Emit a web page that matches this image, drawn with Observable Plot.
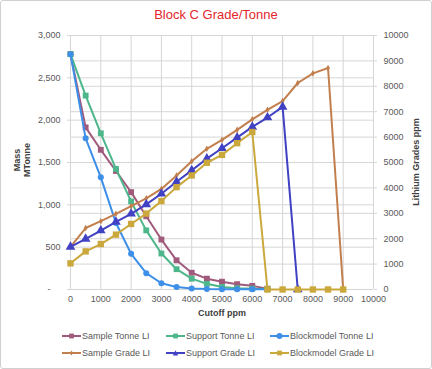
<!DOCTYPE html>
<html><head><meta charset="utf-8">
<script src="https://cdn.jsdelivr.net/npm/d3@7"></script>
<script src="https://cdn.jsdelivr.net/npm/@observablehq/plot@0.6"></script>
<style>
body{margin:0;background:#fff;font-family:"Liberation Sans",Arial,sans-serif;}
#page{position:relative;width:432px;height:369px;overflow:hidden;background:#fff}
#frame{position:absolute;left:0;top:0;width:432px;height:369px;box-sizing:border-box;border:1px solid #d0d0d0;border-radius:3px;pointer-events:none}
#title{position:absolute;left:0;top:7px;width:432px;text-align:center;font-size:13px;color:#e3262b;line-height:16px}
#chart{position:absolute;left:0;top:0}
#legend{position:absolute;left:62px;top:330px;display:grid;grid-template-columns:104px 104px 110px;row-gap:5px;font-size:9px;color:#595959}
#legend .it{display:flex;align-items:center;height:12px;white-space:nowrap}
#legend svg{margin-right:1px}
.ylab{position:absolute;font-size:9px;font-weight:bold;color:#404040;text-align:center;line-height:10px;transform:translate(-50%,-50%) rotate(-90deg);white-space:nowrap}
</style></head><body>
<div id="page">
<div id="chart"></div>
<div id="title">Block C Grade/Tonne</div>
<div class="ylab" style="left:22px;top:160px">Mass<br>MTonne</div>
<div class="ylab" style="left:416px;top:162px">Lithium Grades ppm</div>
<div id="legend"></div>
<div id="frame"></div>
</div>
<script>
// Cutoff values (ppm)
const cutoffs = [0,500,1000,1500,2000,2500,3000,3500,4000,4500,5000,5500,6000,6500,7000,7500,8000,8500,9000];
// Tonnage series (MTonne, left axis)
const sampleTonne     = [2780,1915,1650,1400,1150,865,590,345,198,128,92,63,43,10];
const supportTonne    = [2780,2290,1845,1425,1040,698,425,240,128,67,30,15,10,5];
const blockmodelTonne = [2780,1785,1325,785,422,193,74,30,12,6,4,3,3,2];
// Grade series (ppm, right axis)
const sampleGrade     = [1680,2420,2690,2980,3280,3590,3960,4490,5050,5540,5890,6285,6700,7075,7420,8130,8510,8720,0];
const supportGrade    = [1680,1990,2320,2660,2980,3350,3770,4240,4690,5150,5560,5980,6400,6770,7190,0];
const blockmodelGrade = [1030,1500,1790,2160,2580,2990,3480,4030,4490,4990,5300,5760,6200,0,0,0,0,0,0];
// Axis ticks
const leftTicks = [0,500,1000,1500,2000,2500,3000];
const rightTicks = [0,1000,2000,3000,4000,5000,6000,7000,8000,9000,10000];
const xTicks = [0,1000,2000,3000,4000,5000,6000,7000,8000,9000,10000];

const LEFT_MAX = 3000, RIGHT_MAX = 10000, K = LEFT_MAX / RIGHT_MAX;

const series = [
  {name:"Sample Tonne LI",     vals:sampleTonne,     axis:"L", color:"#a05a7c", symbol:"square",   r:3.3},
  {name:"Support Tonne LI",    vals:supportTonne,    axis:"L", color:"#4db68b", symbol:"square",   r:3.3},
  {name:"Blockmodel Tonne LI", vals:blockmodelTonne, axis:"L", color:"#3d8fe8", symbol:"circle",   r:3},
  {name:"Sample Grade LI",     vals:sampleGrade,     axis:"R", color:"#c27f4e", symbol:"diamond",  r:2},
  {name:"Support Grade LI",    vals:supportGrade,    axis:"R", color:"#4141c4", symbol:"triangle", r:3.6},
  {name:"Blockmodel Grade LI", vals:blockmodelGrade, axis:"R", color:"#cba83c", symbol:"square",   r:3.6}
];

const marks = [
  Plot.gridY(leftTicks, {stroke:"#d6d6d6", strokeOpacity:1}),
  Plot.gridY(rightTicks.map(t => t*K), {stroke:"#d6d6d6", strokeOpacity:1}),
  Plot.gridX(xTicks, {stroke:"#d6d6d6", strokeOpacity:1}),
  Plot.axisY(leftTicks, {anchor:"left", tickSize:3, tickPadding:7, label:null, fontSize:9, fill:"#595959", stroke:"#d6d6d6",
    tickFormat: d => d === 0 ? "-\u00a0\u00a0\u00a0\u00a0" : d3.format(",")(d)}),
  Plot.axisY(rightTicks.map(t => t*K), {anchor:"right", tickSize:3, tickPadding:7, label:null, fontSize:9, fill:"#595959", stroke:"#d6d6d6",
    tickFormat: d => String(Math.round(d / K))}),
  Plot.axisX(xTicks, {anchor:"bottom", tickSize:0, tickPadding:6, fontSize:9, fill:"#595959",
    tickFormat: d => String(d),
    label:"Cutoff ppm", labelAnchor:"center", labelArrow:"none", labelOffset:26})
];

for (const s of series) {
  const data = s.vals.map((v,i) => ({x: cutoffs[i], v}));
  const yAcc = s.axis === "L" ? (d => d.v) : (d => d.v * K);
  marks.push(Plot.line(data, {x:"x", y:yAcc, stroke:s.color, strokeWidth:2}));
  marks.push(Plot.dot(data, {x:"x", y:yAcc, fill:s.color, stroke:"none", symbol:s.symbol, r:s.r}));
}

const chart = Plot.plot({
  width:432, height:320,
  marginTop:35, marginBottom:31, marginLeft:70, marginRight:59,
  style:{fontFamily:"Liberation Sans, Arial, sans-serif", background:"transparent"},
  x:{domain:[0,10000], axis:null},
  y:{domain:[0,LEFT_MAX], axis:null},
  marks
});
// style the x label bold
chart.querySelectorAll('g[aria-label="x-axis label"] text').forEach(t => {
  t.setAttribute("font-weight","bold"); t.setAttribute("fill","#404040");
});
document.getElementById("chart").appendChild(chart);

// Legend
const sym = {
  square: (r) => { const a = r*1.6; return `<rect x="${9.5-a/2}" y="${4-a/2}" width="${a}" height="${a}"/>`; },
  circle: (r) => `<circle cx="9.5" cy="4" r="${r}"/>`,
  diamond:(r) => `<path d="M9.5 ${4-r*1.2}L${9.5+r*0.8} 4L9.5 ${4+r*1.2}L${9.5-r*0.8} 4Z"/>`,
  triangle:(r)=> `<path d="M9.5 ${4-r*0.9}L${9.5+r*0.9} ${4+r*0.8}L${9.5-r*0.9} ${4+r*0.8}Z"/>`
};
const lg = document.getElementById("legend");
for (const s of series) {
  const it = document.createElement("div");
  it.className = "it";
  const mr = s.symbol === "diamond" ? 2 : 3;
  it.innerHTML = `<svg width="19" height="8" viewBox="0 0 19 8"><line x1="0" x2="19" y1="4" y2="4" stroke="${s.color}" stroke-width="2"/><g fill="${s.color}">${sym[s.symbol](mr)}</g></svg><span>${s.name}</span>`;
  lg.appendChild(it);
}
</script>
</body></html>
